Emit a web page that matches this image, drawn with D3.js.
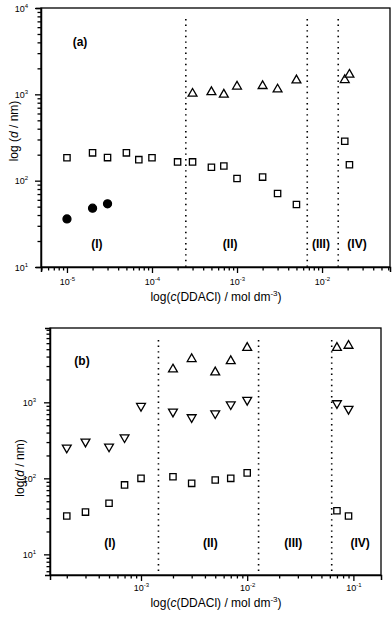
<!DOCTYPE html>
<html>
<head>
<meta charset="utf-8">
<script src="https://cdn.jsdelivr.net/npm/d3@7"></script>
<style>
  body { margin: 0; background: #fff; }
  svg { display: block; font-family: "Liberation Sans", Arial, sans-serif; }
</style>
</head>
<body>
<div id="chart"></div>
<script>
// ---- panel (a) data ----
var aSquareConc = [1e-5, 2e-5, 3e-5, 5e-5, 7e-5, 1e-4, 2e-4, 3e-4, 5e-4, 7e-4, 1e-3, 2e-3, 3e-3, 5e-3, 0.0185, 0.021];
var aSquareSize = [184, 210, 185, 210, 175, 184, 165, 165, 143, 148, 106, 110, 71, 53, 286, 153];
var aTriConc = [3e-4, 5e-4, 7e-4, 1e-3, 2e-3, 3e-3, 5e-3, 0.0185, 0.021];
var aTriSize = [1018, 1064, 995, 1233, 1250, 1143, 1455, 1466, 1695];
var aDotConc = [1e-5, 2e-5, 3e-5];
var aDotSize = [36, 48, 54];
var aDividers = [2.5e-4, 6.7e-3, 1.55e-2];
var aRegionNames = ["(I)", "(II)", "(III)", "(IV)"];
var aRegionConc = [2.25e-5, 8.3e-4, 9.7e-3, 0.0258];

// ---- panel (b) data ----
var bConc = [2e-4, 3e-4, 5e-4, 7e-4, 1e-3, 2e-3, 3e-3, 5e-3, 7e-3, 1e-2, 7e-2, 9e-2];
var bSquareSize = [32, 36, 47, 82, 100, 105, 86, 95, 100, 118, 37.5, 32];
var bDownSize = [253, 303, 261, 346, 894, 752, 635, 716, 940, 1073, 970, 817];
var bUpConc = [2e-3, 3e-3, 5e-3, 7e-3, 1e-2, 7e-2, 9e-2];
var bUpSize = [2718, 3716, 2485, 3493, 5220, 5220, 5560];
var bDividers = [1.46e-3, 0.0128, 0.0625];
var bRegionNames = ["(I)", "(II)", "(III)", "(IV)"];
var bRegionConc = [5.1e-4, 4.5e-3, 0.0272, 0.1156];

var svg = d3.select("#chart").append("svg")
  .attr("width", 392)
  .attr("height", 617);

// log ticks: 1..9 times each decade that falls in the domain
function logTicks(domain) {
  var out = [];
  var lo = Math.floor(Math.log10(domain[0])), hi = Math.ceil(Math.log10(domain[1]));
  for (var e = lo; e <= hi; e++) {
    for (var m = 1; m <= 9; m++) {
      var v = m * Math.pow(10, e);
      if (v >= domain[0] * 0.999 && v <= domain[1] * 1.001) out.push(v);
    }
  }
  return out;
}
function isMajor(v) {
  var l = Math.log10(v);
  return Math.abs(l - Math.round(l)) < 1e-6;
}
// "10" with superscript exponent
function powLabel(sel, v) {
  sel.append("tspan").text("10");
  sel.append("tspan")
    .attr("dy", -4)
    .style("font-size", "6px")
    .text(Math.round(Math.log10(v)));
}

function drawPanel(p) {
  var g = svg.append("g").attr("transform", `translate(${p.left}, ${p.top})`);
  var x = d3.scaleLog().domain(p.xDomain).range([0, p.width]);
  var y = d3.scaleLog().domain(p.yDomain).range([p.height, 0]);

  // frame
  g.append("rect")
    .attr("width", p.width).attr("height", p.height)
    .attr("fill", "none").attr("stroke", "#000").attr("stroke-width", 1.3);

  // x axis
  var xAxis = g.append("g")
    .attr("transform", `translate(0, ${p.height})`)
    .call(d3.axisBottom(x).tickValues(logTicks(p.xDomain)).tickSize(5).tickFormat(""));
  xAxis.select(".domain").attr("stroke-width", 1.5);
  xAxis.selectAll(".tick line")
    .attr("stroke-width", 1.3)
    .attr("y2", d => isMajor(d) ? 6 : 3.5);
  xAxis.selectAll(".tick").filter(d => isMajor(d))
    .append("text")
    .attr("y", p.xLabelGap).attr("fill", "#000")
    .style("font-size", "9px").attr("text-anchor", "middle")
    .each(function (d) { powLabel(d3.select(this), d); });

  // y axis
  var yAxis = g.append("g")
    .call(d3.axisLeft(y).tickValues(logTicks(p.yDomain)).tickSize(5).tickFormat(""));
  yAxis.select(".domain").attr("stroke-width", 1.5);
  yAxis.selectAll(".tick line")
    .attr("stroke-width", 1.3)
    .attr("x2", d => isMajor(d) ? -6 : -3.5);
  yAxis.selectAll(".tick").filter(d => isMajor(d))
    .append("text")
    .attr("x", -p.yLabelGap).attr("y", 3).attr("fill", "#000")
    .style("font-size", "9px").attr("text-anchor", "end")
    .each(function (d) { powLabel(d3.select(this), d); });

  // region dividers
  g.selectAll(".divider")
    .data(p.dividers)
    .enter().append("line")
    .attr("x1", d => x(d)).attr("x2", d => x(d))
    .attr("y1", p.dividerTop).attr("y2", p.height)
    .attr("stroke", "#000").attr("stroke-width", 1.6)
    .attr("stroke-dasharray", "1.4,4.2");

  // region labels
  g.selectAll(".region")
    .data(p.regionNames)
    .enter().append("text")
    .attr("x", (d, i) => x(p.regionConc[i]))
    .attr("y", y(p.regionY))
    .attr("text-anchor", "middle").attr("dominant-baseline", "middle")
    .style("font-size", "12px").style("font-weight", "bold")
    .text(d => d);

  // panel tag
  g.append("text")
    .attr("x", p.tag[0]).attr("y", p.tag[1])
    .attr("text-anchor", "middle").attr("dominant-baseline", "middle")
    .style("font-size", "12px").style("font-weight", "bold")
    .text(p.tagText);

  // series
  p.series.forEach(function (s) {
    var sym = d3.symbol().type(s.type).size(s.size);
    g.selectAll(null)
      .data(s.xs)
      .enter().append("path")
      .attr("d", sym)
      .attr("transform", (d, i) => `translate(${x(d)}, ${y(s.ys[i])}) rotate(${s.rotate || 0})`)
      .attr("fill", s.filled ? "#000" : "#fff")
      .attr("stroke", "#000")
      .attr("stroke-width", 1.3);
  });

  // x title
  var xt = g.append("text")
    .attr("x", p.xTitle[0]).attr("y", p.xTitle[1])
    .attr("text-anchor", "middle")
    .style("font-size", "12px");
  xt.append("tspan").text("log(");
  xt.append("tspan").style("font-style", "italic").text("c");
  xt.append("tspan").text("(DDACl) / mol dm");
  xt.append("tspan").attr("dy", -5).style("font-size", "8px").text("-3");
  xt.append("tspan").attr("dy", 5).text(")");

  // y title
  var yt = g.append("text")
    .attr("transform", `translate(${p.yTitle[0]}, ${p.yTitle[1]}) rotate(-90)`)
    .attr("text-anchor", "middle")
    .style("font-size", "12px");
  yt.append("tspan").text(p.yTitleStart);
  yt.append("tspan").style("font-style", "italic").text("d");
  yt.append("tspan").text(" / nm)");
}

drawPanel({
  left: 41, top: 8, width: 349, height: 259,
  xDomain: [4.95e-6, 0.063], yDomain: [10, 10000],
  xLabelGap: 18, yLabelGap: 13,
  dividers: aDividers, dividerTop: 11,
  regionNames: aRegionNames, regionConc: aRegionConc, regionY: 18,
  tag: [39, 35], tagText: "(a)",
  series: [
    { xs: aSquareConc, ys: aSquareSize, type: d3.symbolSquare, size: 40 },
    { xs: aTriConc, ys: aTriSize, type: d3.symbolTriangle, size: 34 },
    { xs: aDotConc, ys: aDotSize, type: d3.symbolCircle, size: 50, filled: true }
  ],
  xTitle: [175, 293], yTitle: [-23, 123], yTitleStart: "log ("
});

drawPanel({
  left: 50, top: 328, width: 331, height: 247,
  xDomain: [1.39e-4, 0.182], yDomain: [5.35, 9500],
  xLabelGap: 16, yLabelGap: 14,
  dividers: bDividers, dividerTop: 12,
  regionNames: bRegionNames, regionConc: bRegionConc, regionY: 13.7,
  tag: [32, 34], tagText: "(b)",
  series: [
    { xs: bConc, ys: bSquareSize, type: d3.symbolSquare, size: 40 },
    { xs: bConc, ys: bDownSize, type: d3.symbolTriangle, size: 34, rotate: 180 },
    { xs: bUpConc, ys: bUpSize, type: d3.symbolTriangle, size: 34 }
  ],
  xTitle: [166, 279], yTitle: [-26, 140], yTitleStart: "log("
});
</script>
</body>
</html>
